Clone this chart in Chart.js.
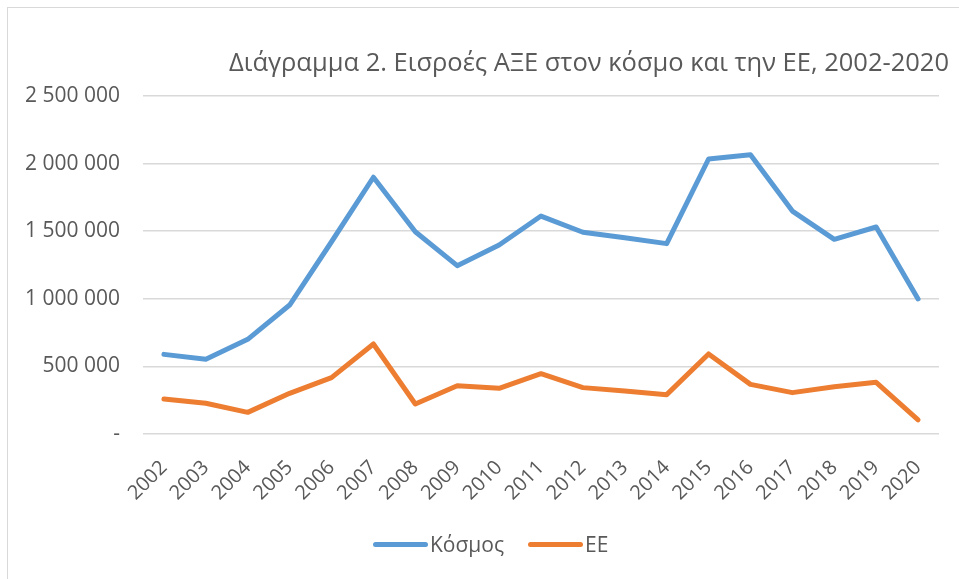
<!DOCTYPE html>
<html>
<head>
<meta charset="utf-8">
<script src="https://cdn.jsdelivr.net/npm/chart.js@4.4.1/dist/chart.umd.min.js"></script>
<style>
  html, body { margin: 0; padding: 0; background: #fff; }
  #wrap { position: relative; width: 959px; height: 579px; overflow: hidden; font-family: 'Open Sans', sans-serif; color: #595959; }
  #frame { position: absolute; left: 7px; top: 7px; width: 1000px; height: 600px; border-left: 1px solid #d9d9d9; border-top: 1px solid #d9d9d9; }
  #title { position: absolute; left: 229px; top: 43px; font-size: 25.5px; line-height: 36px; white-space: nowrap; }
  #legend { position: absolute; left: 373px; top: 530px; font-size: 21px; display: flex; align-items: center; white-space: nowrap; }
  .swatch { display: inline-block; width: 55px; height: 5px; border-radius: 3px; margin-right: 2px; }
  .item { display: flex; align-items: center; margin-right: 24px; }
  canvas { position: absolute; left: 0; top: 0; }
</style>
</head>
<body>
<div id="wrap">
  <div id="frame"></div>
  <canvas id="fdiChart" width="959" height="579"></canvas>
  <div id="title">Διάγραμμα 2. Εισροές ΑΞΕ στον κόσμο και την ΕΕ, 2002-2020</div>
  <div id="legend">
    <span class="item"><span class="swatch" style="background:#5b9bd5"></span>Κόσμος</span>
    <span class="item"><span class="swatch" style="background:#ed7d31"></span>ΕΕ</span>
  </div>
</div>
<script>
const years = ['2002', '2003', '2004', '2005', '2006', '2007', '2008', '2009', '2010', '2011',
               '2012', '2013', '2014', '2015', '2016', '2017', '2018', '2019', '2020'];
const worldValues = [589000, 553000, 700000, 954000, 1422000, 1899000, 1496000, 1245000, 1398000, 1612000,
                     1492000, 1452000, 1408000, 2034000, 2066000, 1649000, 1440000, 1531000, 999000];
const euValues = [259000, 227000, 160000, 301000, 417000, 666000, 222000, 357000, 338000, 446000,
                  343000, 318000, 291000, 592000, 367000, 306000, 350000, 382000, 104000];
const yTicks = [0, 500000, 1000000, 1500000, 2000000, 2500000];

const COLORS = { world: '#5b9bd5', eu: '#ed7d31', text: '#595959', grid: '#d9d9d9' };

// excel style: spaces as thousand separators, dash for zero
function fmt(v) {
    if (v === 0) return '-';
    return String(v).replace(/\B(?=(\d{3})+(?!\d))/g, ' ');
}

const lineStyle = { borderWidth: 5, pointRadius: 0, tension: 0, borderCapStyle: 'round', borderJoinStyle: 'round', fill: false };

new Chart(document.getElementById('fdiChart'), {
    type: 'line',
    data: {
        labels: years,
        datasets: [
            { label: 'Κόσμος', data: worldValues, borderColor: COLORS.world, backgroundColor: COLORS.world, ...lineStyle },
            { label: 'ΕΕ', data: euValues, borderColor: COLORS.eu, backgroundColor: COLORS.eu, ...lineStyle }
        ]
    },
    options: {
        responsive: false,
        animation: false,
        layout: { padding: { left: 0, right: 20, top: 96, bottom: 0 } },
        plugins: { legend: { display: false }, title: { display: false }, tooltip: { enabled: false } },
        scales: {
            x: {
                offset: true,
                grid: { display: false, drawTicks: false },
                border: { display: false },
                ticks: { color: COLORS.text, font: { family: 'Open Sans', size: 20 }, maxRotation: 45, minRotation: 45, padding: 22, autoSkip: false },
                afterFit: (scale) => { scale.height = 145; }
            },
            y: {
                min: 0,
                max: 2500000,
                afterBuildTicks: (scale) => { scale.ticks = yTicks.map(v => ({ value: v })); },
                grid: { color: COLORS.grid, lineWidth: 1.5, drawTicks: false },
                border: { display: false },
                ticks: { color: COLORS.text, font: { family: 'Open Sans', size: 21 }, padding: 23, callback: (v) => fmt(v) },
                afterFit: (scale) => { scale.width = 143; }
            }
        }
    }
});
</script>
</body>
</html>
